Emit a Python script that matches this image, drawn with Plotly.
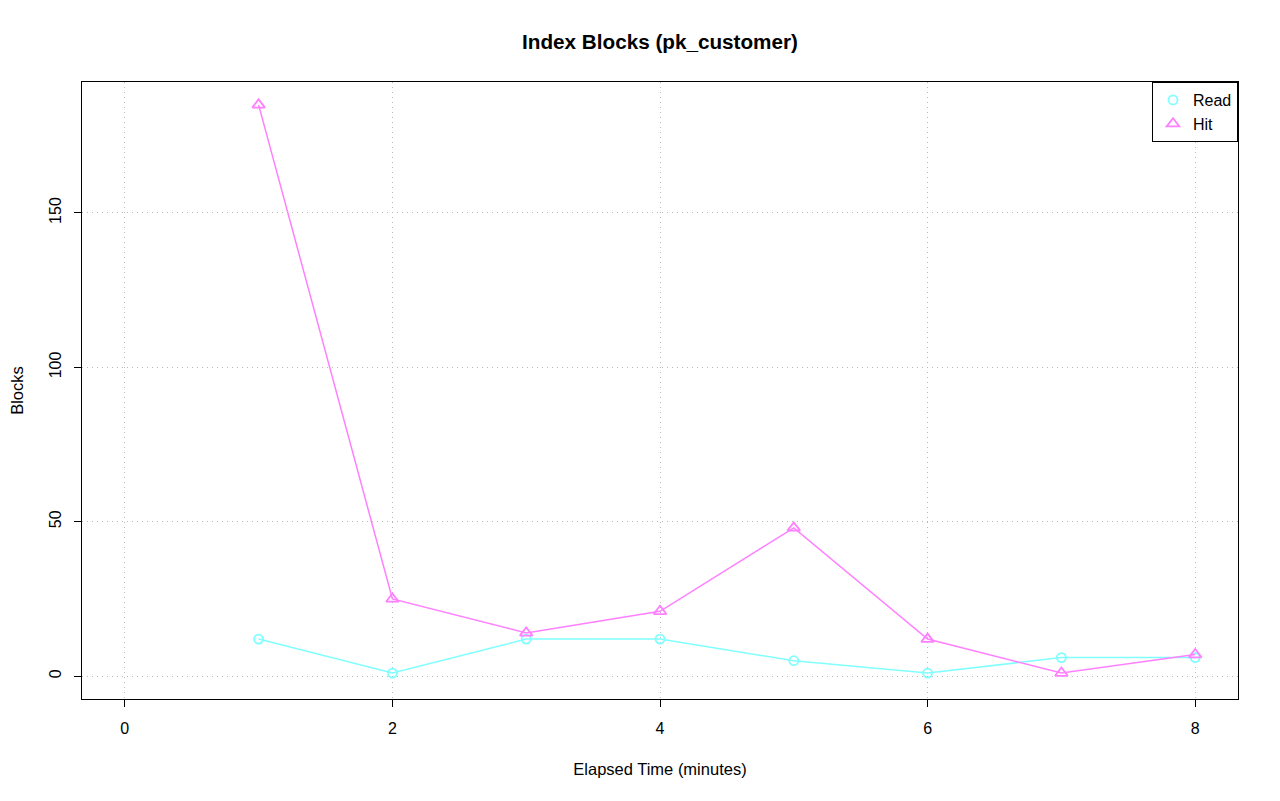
import plotly.graph_objects as go

minutes = [1, 2, 3, 4, 5, 6, 7, 8]
read_blocks = [12, 1, 12, 12, 5, 1, 6, 6]
hit_blocks = [185, 25, 14, 21, 48, 12, 1, 7]
x_ticks = [0, 2, 4, 6, 8]
y_ticks = [0, 50, 100, 150]

font = "Liberation Sans, Arial, Helvetica, sans-serif"
READ_C = "#80FFFF"
HIT_C = "#FF80FF"
fig = go.Figure()
fig.add_trace(go.Scatter(x=minutes, y=read_blocks, mode="lines+markers", name="Read",
                         showlegend=False,
                         line=dict(color=READ_C, width=1.5),
                         marker=dict(symbol="circle-open", size=9, color=READ_C,
                                     line=dict(width=1.8, color=READ_C))))
fig.add_trace(go.Scatter(x=minutes, y=hit_blocks, mode="lines+markers", name="Hit",
                         showlegend=False,
                         line=dict(color=HIT_C, width=1.5),
                         marker=dict(symbol="triangle-up-open", size=11, color=HIT_C,
                                     line=dict(width=1.8, color=HIT_C))))
# legend entries (markers only, as in the reference legend)
fig.add_trace(go.Scatter(x=[None], y=[None], mode="markers", name="Read",
                         marker=dict(symbol="circle-open", size=9, color=READ_C,
                                     line=dict(width=1.8, color=READ_C))))
fig.add_trace(go.Scatter(x=[None], y=[None], mode="markers", name="Hit",
                         marker=dict(symbol="triangle-up-open", size=11, color=HIT_C,
                                     line=dict(width=1.8, color=HIT_C))))

axis_common = dict(showline=True, mirror=True, linecolor="black", linewidth=1.3,
                   ticks="outside", ticklen=7, tickcolor="black", tickwidth=1,
                   showgrid=True, gridcolor="#b8b8b8", griddash="1px,4px", gridwidth=1.2,
                   zeroline=False, automargin=False,
                   tickfont=dict(size=16, color="black", family=font))

fig.update_layout(
    width=1272, height=793,
    paper_bgcolor="white", plot_bgcolor="white",
    margin=dict(l=74, r=42, t=74, b=102),
    title=dict(text="<b>Index Blocks (pk_customer)</b>", x=0.5, xanchor="center", xref="paper",
               y=(793 - 34) / 793, yanchor="middle", font=dict(size=20.7, family=font, color="black")),
    font=dict(family=font, color="black"),
    xaxis=dict(range=[-0.32, 8.32], tickvals=x_ticks, ticklabelstandoff=8,
               title=dict(text="Elapsed Time (minutes)", font=dict(size=16.5), standoff=27),
               **axis_common),
    yaxis=dict(range=[-7.4, 192.4], tickvals=y_ticks, tickangle=-90, ticklabelstandoff=6,
               title=dict(text="Blocks", font=dict(size=16.5), standoff=22),
               **axis_common),
    legend=dict(x=1, y=1, xanchor="right", yanchor="top", bordercolor="black",
                borderwidth=1, bgcolor="white", font=dict(size=16, family=font),
                tracegroupgap=0, itemwidth=30),
    showlegend=True,
)
fig.write_html("out.html")
